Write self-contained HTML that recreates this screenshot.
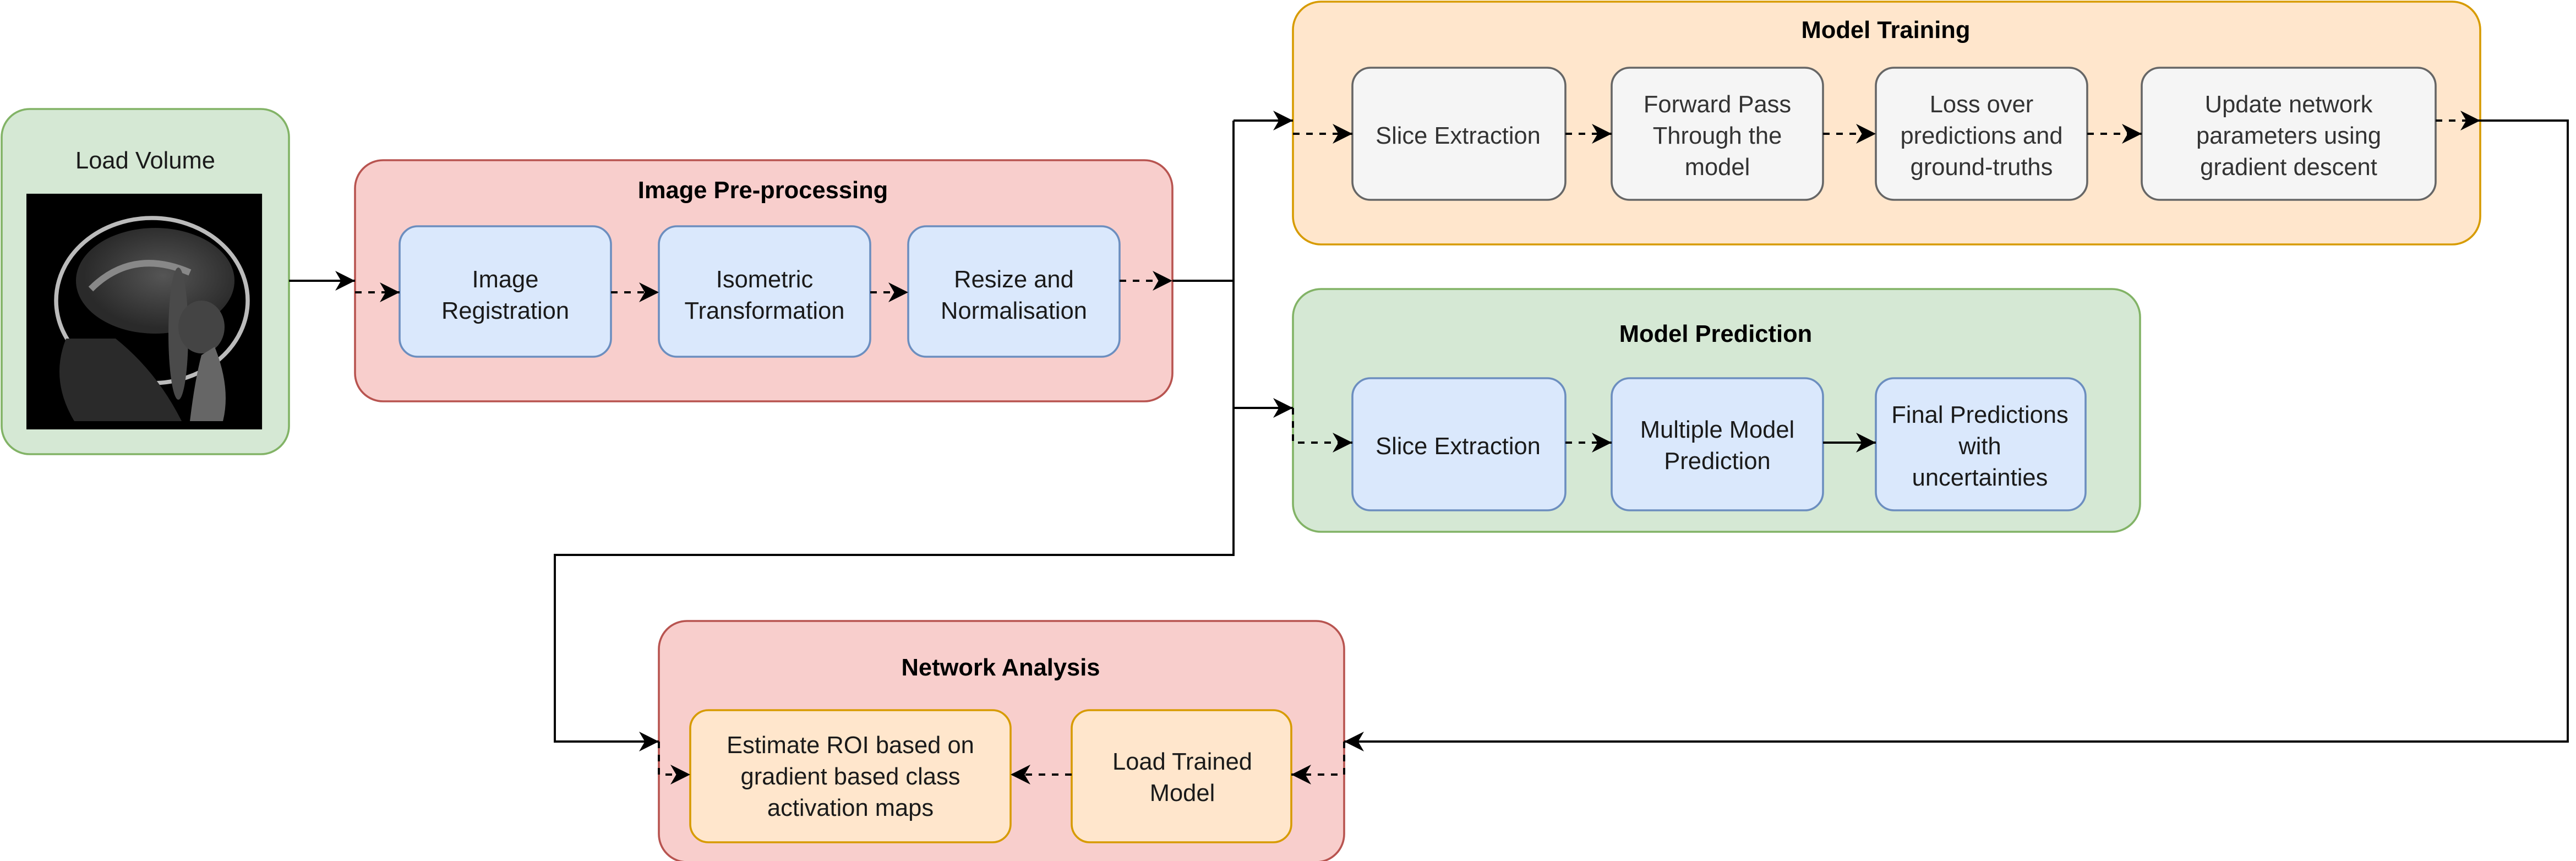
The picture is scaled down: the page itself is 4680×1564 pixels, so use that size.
<!DOCTYPE html>
<html><head><meta charset="utf-8"><style>
html,body{margin:0;padding:0;background:#fff;}
svg{display:block;}
text{font-family:"Liberation Sans",sans-serif;font-size:14.5px;fill:#1a1a1a;text-anchor:middle;}
.t{font-weight:bold;font-size:14.5px;fill:#000;}
</style></head><body>
<svg width="4680" height="1564" viewBox="0 0 1560 521.33" xmlns="http://www.w3.org/2000/svg">
<defs>
<marker id="a" markerWidth="13" markerHeight="13" refX="12" refY="6" orient="auto" markerUnits="userSpaceOnUse">
<path d="M0,0 L12,6 L0,12 L3.5,6 z" fill="#000"/>
</marker>
<radialGradient id="br" cx="0.55" cy="0.45" r="0.5"><stop offset="0" stop-color="#555"/><stop offset="1" stop-color="#2a2a2a"/></radialGradient>
</defs>

<!-- Load Volume -->
<rect x="1" y="66" width="174" height="209" rx="17" fill="#d5e8d4" stroke="#82b366" stroke-width="1.2"/>
<text x="88" y="102">Load Volume</text>
<rect x="16" y="117.3" width="142.7" height="142.7" fill="#000"/>
<g>
<ellipse cx="92" cy="182" rx="58" ry="50" fill="none" stroke="#bbb" stroke-width="2.5"/>
<ellipse cx="94" cy="170" rx="48" ry="32" fill="url(#br)"/>
<path d="M55,175 Q80,150 115,165" stroke="#888" stroke-width="4" fill="none"/>
<ellipse cx="108" cy="202" rx="6" ry="40" fill="#4a4a4a"/>
<ellipse cx="122" cy="198" rx="14" ry="16" fill="#444"/>
<path d="M40,205 Q30,230 45,255 L110,255 Q95,225 70,205 z" fill="#2a2a2a"/>
<path d="M130,210 Q140,235 135,255 L115,255 Q118,230 122,215 z" fill="#666"/>
</g>

<!-- Image Pre-processing -->
<rect x="215" y="97" width="495" height="146" rx="17" fill="#f8cecc" stroke="#b85450" stroke-width="1.2"/>
<text class="t" x="462" y="120">Image Pre-processing</text>
<rect x="242" y="137" width="128" height="79" rx="11" fill="#dae8fc" stroke="#6c8ebf" stroke-width="1.2"/>
<text x="306" y="174">Image</text><text x="306" y="193">Registration</text>
<rect x="399" y="137" width="128" height="79" rx="11" fill="#dae8fc" stroke="#6c8ebf" stroke-width="1.2"/>
<text x="463" y="174">Isometric</text><text x="463" y="193">Transformation</text>
<rect x="550" y="137" width="128" height="79" rx="11" fill="#dae8fc" stroke="#6c8ebf" stroke-width="1.2"/>
<text x="614" y="174">Resize and</text><text x="614" y="193">Normalisation</text>

<!-- Model Training -->
<rect x="783" y="1" width="719" height="147" rx="17" fill="#ffe6cc" stroke="#d79b00" stroke-width="1.2"/>
<text class="t" x="1142" y="23">Model Training</text>
<g fill="#f5f5f5" stroke="#666" stroke-width="1.2">
<rect x="819" y="41" width="129" height="80" rx="11"/>
<rect x="976" y="41" width="128" height="80" rx="11"/>
<rect x="1136" y="41" width="128" height="80" rx="11"/>
<rect x="1297" y="41" width="178" height="80" rx="11"/>
</g>
<text x="883" y="87" style="fill:#333">Slice Extraction</text>
<text x="1040" y="68" style="fill:#333">Forward Pass</text><text x="1040" y="87" style="fill:#333">Through the</text><text x="1040" y="106" style="fill:#333">model</text>
<text x="1200" y="68" style="fill:#333">Loss over</text><text x="1200" y="87" style="fill:#333">predictions and</text><text x="1200" y="106" style="fill:#333">ground-truths</text>
<text x="1386" y="68" style="fill:#333">Update network</text><text x="1386" y="87" style="fill:#333">parameters using</text><text x="1386" y="106" style="fill:#333">gradient descent</text>

<!-- Model Prediction -->
<rect x="783" y="175" width="513" height="147" rx="17" fill="#d5e8d4" stroke="#82b366" stroke-width="1.2"/>
<text class="t" x="1039" y="207">Model Prediction</text>
<g fill="#dae8fc" stroke="#6c8ebf" stroke-width="1.2">
<rect x="819" y="229" width="129" height="80" rx="11"/>
<rect x="976" y="229" width="128" height="80" rx="11"/>
<rect x="1136" y="229" width="127" height="80" rx="11"/>
</g>
<text x="883" y="275">Slice Extraction</text>
<text x="1040" y="265">Multiple Model</text><text x="1040" y="284">Prediction</text>
<text x="1199" y="256">Final Predictions</text><text x="1199" y="275">with</text><text x="1199" y="294">uncertainties</text>

<!-- Network Analysis -->
<rect x="399" y="376" width="415" height="146" rx="17" fill="#f8cecc" stroke="#b85450" stroke-width="1.2"/>
<text class="t" x="606" y="409">Network Analysis</text>
<rect x="418" y="430" width="194" height="80" rx="11" fill="#ffe6cc" stroke="#d79b00" stroke-width="1.2"/>
<text x="515" y="456">Estimate ROI based on</text><text x="515" y="475">gradient based class</text><text x="515" y="494">activation maps</text>
<rect x="649" y="430" width="133" height="80" rx="11" fill="#ffe6cc" stroke="#d79b00" stroke-width="1.2"/>
<text x="716" y="466">Load Trained</text><text x="716" y="485">Model</text>

<!-- connectors -->
<g stroke="#000" stroke-width="1.3" fill="none">
<path d="M175,170 L215,170" marker-end="url(#a)"/>
<path d="M747,170 L710,170"/>
<path d="M747,73 L747,336 L336,336 L336,449 L399,449" marker-end="url(#a)"/>
<path d="M747,73 L783,73" marker-end="url(#a)"/>
<path d="M747,247 L783,247" marker-end="url(#a)"/>
<path d="M1502,73 L1555,73 L1555,449 L814,449" marker-end="url(#a)"/>
<path d="M1104,268 L1136,268" marker-end="url(#a)"/>
</g>
<g stroke="#000" stroke-width="1.3" fill="none" stroke-dasharray="4,4">
<path d="M215,177 L242,177" marker-end="url(#a)"/>
<path d="M370,177 L399,177" marker-end="url(#a)"/>
<path d="M527,177 L550,177" marker-end="url(#a)"/>
<path d="M678,170 L710,170" marker-end="url(#a)"/>
<path d="M783,81 L819,81" marker-end="url(#a)"/>
<path d="M948,81 L976,81" marker-end="url(#a)"/>
<path d="M1104,81 L1136,81" marker-end="url(#a)"/>
<path d="M1264,81 L1297,81" marker-end="url(#a)"/>
<path d="M1475,73 L1502,73" marker-end="url(#a)"/>
<path d="M783,247 L783,268 L819,268" marker-end="url(#a)"/>
<path d="M948,268 L976,268" marker-end="url(#a)"/>
<path d="M814,449 L814,469 L782,469" marker-end="url(#a)"/>
<path d="M649,469 L612,469" marker-end="url(#a)"/>
<path d="M399,449 L399,469 L418,469" marker-end="url(#a)"/>
</g>
</svg>
</body></html>
